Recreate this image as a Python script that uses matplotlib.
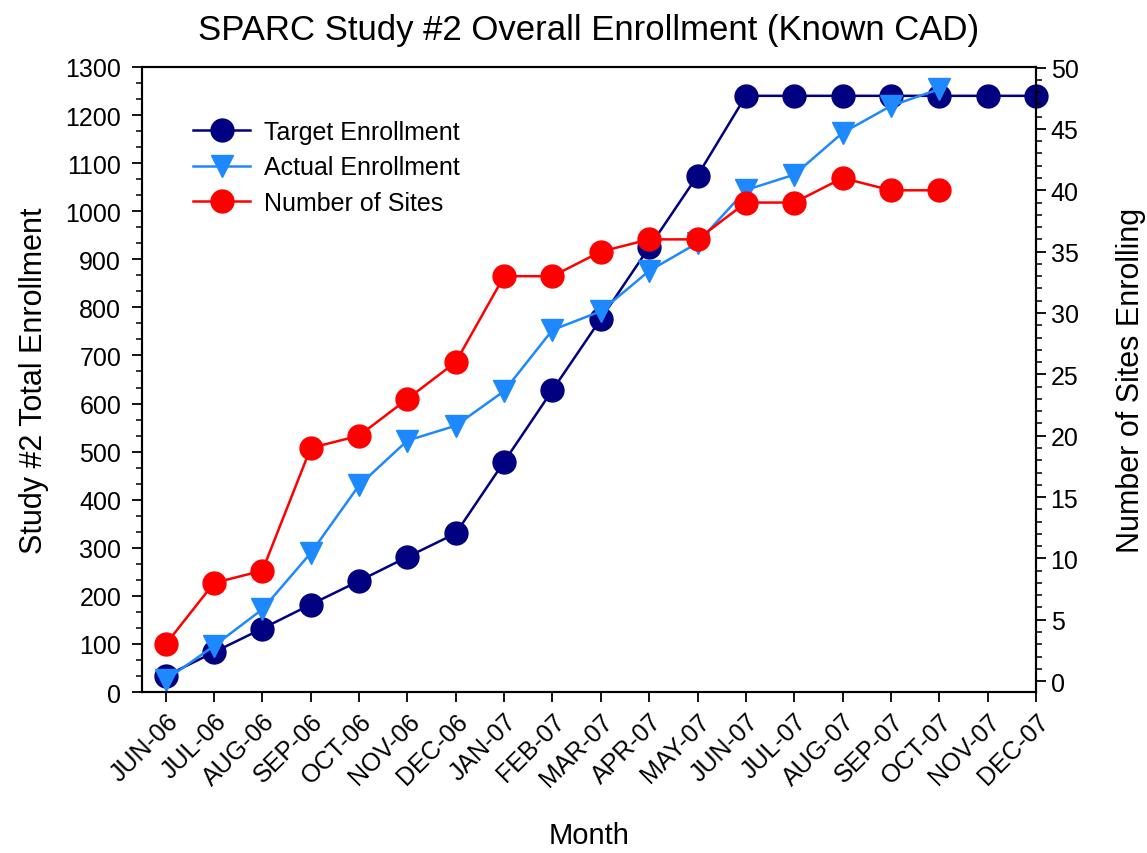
import numpy as np
import matplotlib
matplotlib.use("Agg")
import matplotlib.pyplot as plt
from matplotlib.ticker import MultipleLocator

plt.rcParams['font.family'] = ['Liberation Sans', 'DejaVu Sans']

months = ['JUN-06', 'JUL-06', 'AUG-06', 'SEP-06', 'OCT-06', 'NOV-06', 'DEC-06',
          'JAN-07', 'FEB-07', 'MAR-07', 'APR-07', 'MAY-07', 'JUN-07', 'JUL-07',
          'AUG-07', 'SEP-07', 'OCT-07', 'NOV-07', 'DEC-07']
target = [33, 83, 132, 182, 231, 281, 330, 479, 628, 776, 925, 1074,
          1240, 1240, 1240, 1240, 1240, 1240, 1240]
actual = [25, 96, 172, 289, 430, 523, 554, 626, 753, 792, 876, 934,
          1044, 1076, 1163, 1219, 1254]
sites = [3, 8, 9, 19, 20, 23, 26, 33, 33, 35, 36, 36, 39, 39, 41, 40, 40]

x = np.arange(len(months))

fig = plt.figure(figsize=(11.47, 8.54), dpi=100)
ax = fig.add_axes([0.1238, 0.1885, 0.7794, 0.7319])
ax2 = ax.twinx()

l1, = ax.plot(x, target, color='#000080', marker='o', markersize=16.5, lw=1.8,
              label='Target Enrollment', zorder=3, clip_on=False)
l2, = ax.plot(x[:len(actual)], actual, color='#1E88FF', marker='v', markersize=16.5,
              lw=1.8, label='Actual Enrollment', zorder=4, clip_on=False)
l3, = ax2.plot(x[:len(sites)], sites, color='#FF0000', marker='o', markersize=16.5,
               lw=1.8, label='Number of Sites', zorder=3, clip_on=False)

ax.set_xticks(x)
ax.set_xticklabels(months, rotation=45, ha='right', rotation_mode='anchor', fontsize=18)
ax.set_xlim(-0.49, 18.0)
ax.set_ylim(0, 1300)
ax2.set_ylim(-0.89, 50.05)

ax.yaxis.set_major_locator(MultipleLocator(100))
ax.yaxis.set_minor_locator(MultipleLocator(100 / 3))
ax2.yaxis.set_major_locator(MultipleLocator(5))
ax2.yaxis.set_minor_locator(MultipleLocator(1))
ax2.set_ylim(-0.89, 50.05)

ax.tick_params(axis='both', which='major', direction='out', length=7, width=1.3, labelsize=18)
ax.tick_params(axis='y', which='major', pad=8)
ax.tick_params(axis='y', which='minor', direction='out', length=4, width=1.1)
ax2.tick_params(axis='y', which='major', direction='out', length=7, width=1.3, labelsize=18)
ax2.tick_params(axis='y', which='minor', direction='out', length=4, width=1.1)
ax.tick_params(axis='x', pad=5)

for a in (ax, ax2):
    for s in a.spines.values():
        s.set_linewidth(1.5)

ax.set_title('SPARC Study #2 Overall Enrollment (Known CAD)', fontsize=25, pad=20)
ax.set_ylabel('Study #2 Total Enrollment', fontsize=22, labelpad=12)
ax2.set_ylabel('Number of Sites Enrolling', fontsize=22, labelpad=27)
ax.set_xlabel('Month', fontsize=21, labelpad=22)

ax.legend(handles=[l1, l2, l3], loc='upper left', bbox_to_anchor=(0.057, 0.915),
          frameon=False, fontsize=18, handlelength=2.3, handletextpad=0.55,
          borderpad=0, borderaxespad=0, labelspacing=0.45)

fig.savefig('out.png', dpi=100)
